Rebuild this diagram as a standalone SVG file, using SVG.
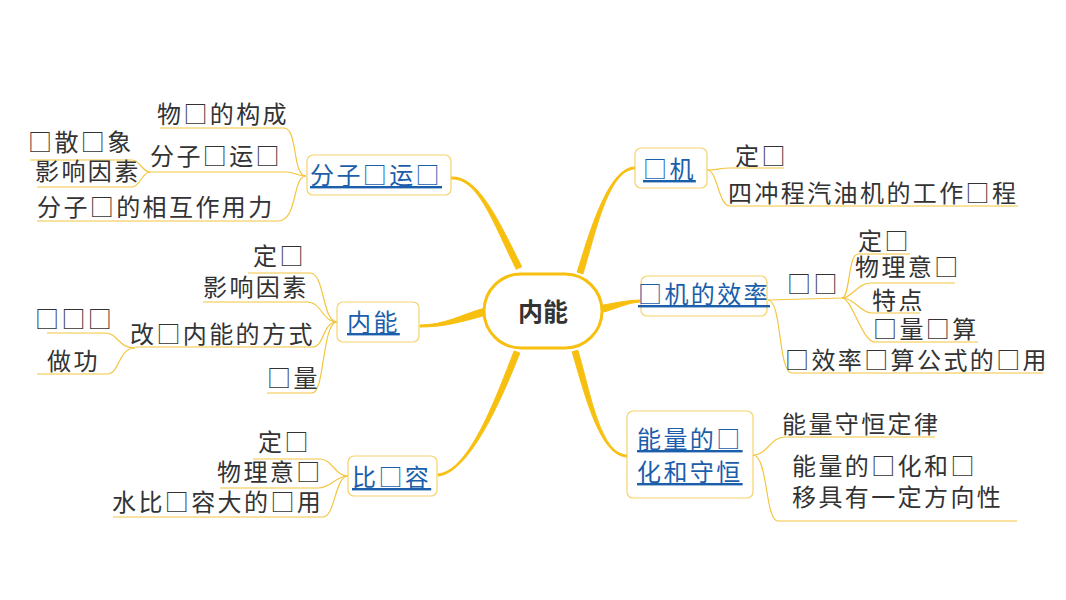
<svg xmlns="http://www.w3.org/2000/svg" width="1066" height="600" viewBox="0 0 1066 600">
<style>
.br{fill:#F7C010;stroke:#F7C010;stroke-width:1;stroke-linejoin:round}
.ln{fill:none;stroke:#F4C540;stroke-width:1.2}
.box{fill:#fff;stroke:#F6D36B;stroke-width:1.2}
.t{font-family:"Noto Sans CJK SC","Noto Sans",sans-serif;font-size:24px;letter-spacing:2.4px;fill:#333}
.lk{font-family:"Noto Sans CJK SC","Noto Sans",sans-serif;font-size:24px;letter-spacing:2.4px;fill:#1B5EAB;text-decoration:underline}
.root{font-family:"Noto Sans CJK SC","Noto Sans",sans-serif;font-size:25px;font-weight:bold;fill:#333;text-anchor:middle}
</style>
<rect width="1066" height="600" fill="#fff"/>
<g id="connectors">
<path class="br" d="M451,179 C478,177 493.3,223.3 516.3,269.3 L521.7,266.7 C498.7,220.7 478,175 451,177 Z"/>
<path class="br" d="M420,327 C445,327 462.9,321.4 484.9,315.4 L483.1,308.6 C461.1,314.6 445,325 420,325 Z"/>
<path class="br" d="M438,476 C470,473 502.8,396.1 519.8,353.1 L514.2,350.9 C497.2,393.9 470,471 438,474 Z"/>
<path class="br" d="M635,167 C608,167 589.1,234.1 577.1,272.1 L582.9,273.9 C594.9,235.9 608,169 635,169 Z"/>
<path class="br" d="M641,300 C628,300 611.4,303.6 600.4,305.6 L601.6,312.4 C612.6,310.4 628,302 641,302 Z"/>
<circle cx="601" cy="309" r="4" fill="#F7C010"/>
<path class="br" d="M627,455 C600,454 590.9,394.2 577.9,350.2 L572.1,351.8 C585.1,395.8 600,456 627,457 Z"/>
<path class="ln" d="M306,176 C292,176 298,128 284,128 L160,128"/>
<path class="ln" d="M306,176 C296,176 296,172 286,172 L150,172"/>
<path class="ln" d="M306,176 C292,176 298,221 278,221 L37,221"/>
<path class="ln" d="M150,172 C142,172 140,160 132,160 L30,160"/>
<path class="ln" d="M150,172 C142,172 140,187 132,187 L37,187"/>
<path class="ln" d="M337,322 C322,322 325,273 310,273 L248,273"/>
<path class="ln" d="M337,322 C322,322 322,302 307,302 L203,302"/>
<path class="ln" d="M337,322 C322,322 325,347 312,347 L135,347"/>
<path class="ln" d="M337,322 C322,322 325,393 312,393 L267,393"/>
<path class="ln" d="M135,348 C118,348 118,333 105,333 L47,333"/>
<path class="ln" d="M135,348 C118,348 120,374 107,374 L37,374"/>
<path class="ln" d="M348,476 C335,476 332,459 320,459 L253,459"/>
<path class="ln" d="M348,476 C335,476 332,488 318,488 L220,488"/>
<path class="ln" d="M348,476 C335,476 335,517 323,517 L113,517"/>
<path class="ln" d="M707,170 C716,170 720,168 730,168 L784,168"/>
<path class="ln" d="M707,170 C718,170 718,206 730,206 L1018,206"/>
<path class="ln" d="M768,300 L842,298"/>
<path class="ln" d="M768,300 C782,300 778,373 792,373 L1043,373"/>
<path class="ln" d="M842,298 C850,298 848,254 858,254 L910,254"/>
<path class="ln" d="M842,298 C852,298 858,283 870,283 L955,283"/>
<path class="ln" d="M842,298 C855,298 860,313 872,313 L920,313"/>
<path class="ln" d="M842,298 C852,298 862,342 875,342 L978,342"/>
<path class="ln" d="M753,455 C768,455 770,437 785,437 L935,437"/>
<path class="ln" d="M753,455 C768,455 765,521 778,521 L1017,521"/>
</g>
<g id="root">
<rect x="484" y="274" width="118" height="74" rx="37" fill="#fff" stroke="#F7C010" stroke-width="3"/>
<text class="root" x="543" y="321">内能</text>
</g>
<g id="n-fenzi">
<rect class="box" x="307" y="155" width="144" height="40" rx="6"/>
<text class="lk" x="310" y="184">分子□运□</text>
</g>
<g id="n-neineng">
<rect class="box" x="337" y="302" width="82" height="40" rx="6"/>
<text class="lk" x="347" y="331">内能</text>
</g>
<g id="n-bi">
<rect class="box" x="348" y="456" width="89" height="40" rx="6"/>
<text class="lk" x="352" y="486">比□容</text>
</g>
<g id="n-ji">
<rect class="box" x="635" y="148" width="72" height="40" rx="6"/>
<text class="lk" x="643" y="178">□机</text>
</g>
<g id="n-xiaolv">
<rect class="box" x="641" y="276" width="126" height="40" rx="6"/>
<text class="lk" x="638" y="303">□机的效率</text>
</g>
<g id="n-nengliang">
<rect class="box" x="627" y="411" width="126" height="87" rx="6"/>
<text class="lk" x="637" y="448">能量的□</text>
<text class="lk" x="637" y="481">化和守恒</text>
</g>
<g id="s1"><text class="t" x="157" y="123">物□的构成</text></g>
<g id="s2"><text class="t" x="150" y="165">分子□运□</text></g>
<g id="s3"><text class="t" x="28" y="151">□散□象</text></g>
<g id="s4"><text class="t" x="35" y="180">影响因素</text></g>
<g id="s5"><text class="t" x="37" y="216">分子□的相互作用力</text></g>
<g id="s6"><text class="t" x="253" y="265">定□</text></g>
<g id="s7"><text class="t" x="203" y="296">影响因素</text></g>
<g id="s8"><text class="t" x="130" y="343">改□内能的方式</text></g>
<g id="s9"><text class="t" x="267" y="387">□量</text></g>
<g id="s10"><text class="t" x="35" y="328">□□□</text></g>
<g id="s11"><text class="t" x="47" y="370">做功</text></g>
<g id="s12"><text class="t" x="258" y="451">定□</text></g>
<g id="s13"><text class="t" x="217" y="481">物理意□</text></g>
<g id="s14"><text class="t" x="112" y="511">水比□容大的□用</text></g>
<g id="s15"><text class="t" x="735" y="165">定□</text></g>
<g id="s16"><text class="t" x="728" y="202">四冲程汽油机的工作□程</text></g>
<g id="s17"><text class="t" x="787" y="293">□□</text></g>
<g id="s18"><text class="t" x="858" y="250">定□</text></g>
<g id="s19"><text class="t" x="855" y="276">物理意□</text></g>
<g id="s20"><text class="t" x="872" y="309">特点</text></g>
<g id="s21"><text class="t" x="873" y="338">□量□算</text></g>
<g id="s22"><text class="t" x="785" y="369">□效率□算公式的□用</text></g>
<g id="s23"><text class="t" x="782" y="433">能量守恒定律</text></g>
<g id="s24"><text class="t" x="792" y="475">能量的□化和□</text><text class="t" x="792" y="506">移具有一定方向性</text></g>
</svg>
